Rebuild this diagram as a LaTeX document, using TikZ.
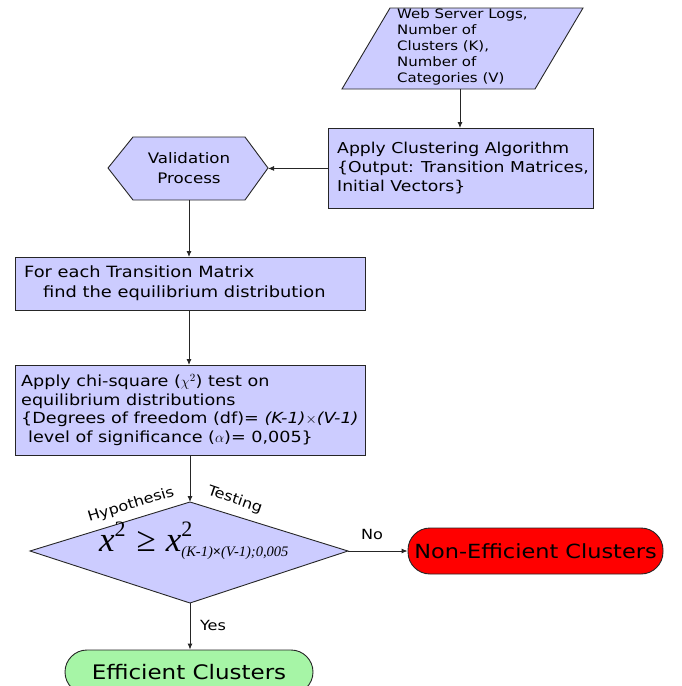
\documentclass[tikz,border=0pt]{standalone}
\usepackage{fontspec}
\setmainfont{DejaVu Sans}[FakeStretch=1.15]
\newfontfamily\tms{Liberation Serif}
\usetikzlibrary{arrows.meta}
\definecolor{lav}{HTML}{CCCCFF}
\definecolor{nered}{HTML}{FF0000}
\definecolor{effgreen}{HTML}{A6F5A6}
\tikzset{
  box/.style={draw=black!85, line width=0.9pt, fill=lav},
  arr/.style={draw=black!85, line width=0.9pt, -{Latex[length=6pt,width=5pt]}},
  txt/.style={inner sep=0pt, align=left, font=\fontsize{15}{19}\selectfont},
  term/.style={draw=black!85, line width=0.9pt, rounded corners=22pt, inner sep=0pt},
}
\newcommand{\supsub}[2]{\rlap{\raisebox{15pt}{\fontsize{22}{22}\selectfont\upshape #1}}\raisebox{-5pt}{\fontsize{14.5}{15}\selectfont #2}}
\begin{document}
\begin{tikzpicture}[x=1pt,y=-1pt]
\useasboundingbox (0,0) rectangle (681,686);
\clip (0,0) rectangle (681,686);
% input parallelogram
\coordinate (inTL) at (390,8);
\coordinate (inTR) at (583,8);
\coordinate (inBR) at (535,89);
\coordinate (inBL) at (342,89);
\coordinate (inB) at (460,89);
\draw[box] (inTL) -- (inTR) -- (inBR) -- (inBL) -- cycle;
\node[txt, anchor=north west, font=\fontsize{13}{16}\selectfont] (intext) at (397,8)
  {Web Server Logs,\\Number of\\Clusters (K),\\Number of\\Categories (V)};
% clustering
\node[box, anchor=north west, minimum width=265pt, minimum height=80pt, inner sep=0pt] (clust) at (328,128) {};
\node[txt, anchor=west] (clusttext) at (337,168)
  {Apply Clustering Algorithm\\\{Output: Transition Matrices,\\Initial Vectors\}};
% validation hexagon
\coordinate (valL) at (108,168);
\coordinate (valR) at (268,168);
\coordinate (valB) at (189,200);
\draw[box] (valL) -- (133,137) -- (245,137) -- (valR) -- (245,200) -- (133,200) -- cycle;
\node[txt, align=center, font=\fontsize{14.5}{20}\selectfont] (val) at (189,168) {Validation\\Process};
% transition matrix
\node[box, anchor=north west, minimum width=350pt, minimum height=53pt, inner sep=0pt] (tm) at (15,257) {};
\node[txt, anchor=west, font=\fontsize{15.5}{20}\selectfont] (tmtext) at (24,283)
  {For each Transition Matrix\\\hspace*{19pt}find the equilibrium distribution};
% chi-square
\node[box, anchor=north west, minimum width=350pt, minimum height=90pt, inner sep=0pt] (chi) at (15,365) {};
\node[txt, anchor=west, font=\fontsize{15.3}{18.5}\selectfont] (chitext) at (21,410)
  {Apply chi-square ({\tms$\chi^{2}$}) test on\\equilibrium distributions\\\{Degrees of freedom (df)= \textit{(K-1)}$\times$\textit{(V-1)}\\\hspace*{7pt}level of significance ($\alpha$)= 0,005\}};
% decision diamond
\coordinate (dT) at (190,502);
\coordinate (dR) at (348,551);
\coordinate (dB) at (190,603);
\coordinate (dL) at (30,551);
\draw[box] (dT) -- (dR) -- (dB) -- (dL) -- cycle;
\node[inner sep=0pt, anchor=base west, font=\tms\fontsize{35}{35}\selectfont\itshape] (cond) at (99,551)
  {x\raisebox{15pt}{\fontsize{22}{22}\selectfont\upshape 2}\hspace{11pt}{\upshape ≥}\hspace{10pt}x\supsub{2}{(K-1){\upshape\bfseries ×}(V-1);0,005}};
\node[inner sep=0pt, rotate=17, font=\fontsize{14}{14}\selectfont] (hyp) at (131,505) {Hypothesis};
\node[inner sep=0pt, rotate=-19, font=\fontsize{14}{14}\selectfont] (tst) at (235,500) {Testing};
% terminals
\node[term, fill=nered, minimum width=255pt, minimum height=46pt, font=\fontsize{19.5}{20}\selectfont] (ne) at (535.5,551) {Non-Efficient Clusters};
\node[term, fill=effgreen, minimum width=248pt, minimum height=44pt, font=\fontsize{20}{20}\selectfont] (eff) at (189,672) {Efficient Clusters};
% connectors
\draw[arr] (inB) -- (clust.north -| inB);
\draw[arr] (clust.west) -- (clust.west -| valR);
\draw[arr] (valB) -- (tm.north -| valB);
\draw[arr] (tm.south -| valB) -- (chi.north -| valB);
\draw[arr] (chi.south -| dT) -- (dT);
\draw[arr] (dR) -- (ne.west);
\draw[arr] (dB) -- (eff.north -| dB);
\node[font=\fontsize{14}{14}\selectfont, inner sep=0pt] (nolbl) at (372,534) {No};
\node[font=\fontsize{14}{14}\selectfont, inner sep=0pt] (yeslbl) at (213,625) {Yes};
\end{tikzpicture}
\end{document}
